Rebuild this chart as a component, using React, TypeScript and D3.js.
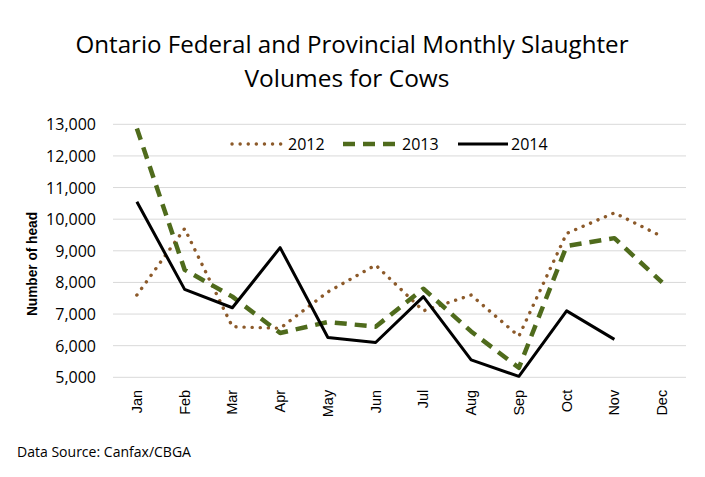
import React from "react";
import * as d3 from "d3";

const months = ["Jan", "Feb", "Mar", "Apr", "May", "Jun", "Jul", "Aug", "Sep", "Oct", "Nov", "Dec"];
const v2012 = [7600, 9700, 6600, 6550, 7700, 8550, 7100, 7600, 6300, 9550, 10200, 9450];
const v2013 = [12870, 8400, 7550, 6400, 6750, 6600, 7800, 6450, 5300, 9150, 9400, 8000];
const v2014 = [10550, 7780, 7200, 9100, 6260, 6100, 7550, 5550, 5030, 7100, 6200];
const yTicks = [5000, 6000, 7000, 8000, 9000, 10000, 11000, 12000, 13000];
const seriesNames = ["2012", "2013", "2014"];

const W = 705, H = 477;
const left = 113, right = 686, top = 124.3, bottom = 377.3;

export default function App() {
  const x = d3.scaleBand<string>().domain(months).range([left, right]);
  const y = d3.scaleLinear().domain([5000, 13000]).range([bottom, top]);
  const cx = (m: string) => (x(m) as number) + x.bandwidth() / 2;
  const line = d3.line<number>().x((_, i) => cx(months[i])).y((d) => y(d));
  const fmt = d3.format(",");
  const font = "'Open Sans', Lato, sans-serif";
  const arial = "'Liberation Sans', Arial, sans-serif";
  const styles = [
    { stroke: "#8c5a2a", width: 3.4, dash: "0.1 8", cap: "round" as const },
    { stroke: "#4f6b1c", width: 4.5, dash: "12 8", cap: "butt" as const },
    { stroke: "#000000", width: 3, dash: "", cap: "butt" as const },
  ];
  const data = [v2012, v2013, v2014];
  const legendLine = [[230, 282], [343, 395], [458, 508]];
  const legendText = [288, 402, 511];
  return (
    <svg width={W} height={H} style={{ position: "absolute", left: 0, top: 0, background: "#fff" }}>
      <rect x={0} y={0} width={W} height={H} fill="#fff" />
      <text x={352} y={53} textAnchor="middle" fontFamily={font} fontSize={24} fill="#000"
        textLength={553} lengthAdjust="spacingAndGlyphs">
        Ontario Federal and Provincial Monthly Slaughter
      </text>
      <text x={347} y={87} textAnchor="middle" fontFamily={font} fontSize={24} fill="#000"
        textLength={205} lengthAdjust="spacingAndGlyphs">
        Volumes for Cows
      </text>
      {yTicks.map((t) => (
        <g key={t}>
          <line x1={left} x2={right} y1={y(t)} y2={y(t)} stroke="#d9d9d9" strokeWidth={1} />
          <text x={96} y={y(t) + 6} textAnchor="end" fontFamily={font} fontSize={16} fill="#000">
            {fmt(t)}
          </text>
        </g>
      ))}
      <text
        transform={`translate(37,264) rotate(-90)`}
        textAnchor="middle"
        fontFamily={arial}
        fontWeight="bold"
        fontSize={14.5}
        fill="#000"
        textLength={104}
        lengthAdjust="spacingAndGlyphs"
      >
        Number of head
      </text>
      {months.map((m) => (
        <text
          key={m}
          transform={`translate(${cx(m) + 5},${bottom + 12.5}) rotate(-90)`}
          textAnchor="end"
          fontFamily={arial}
          fontSize={14.5}
          fill="#000"
        >
          {m}
        </text>
      ))}
      {data.map((d, i) => (
        <path
          key={i}
          d={line(d) as string}
          fill="none"
          stroke={styles[i].stroke}
          strokeWidth={styles[i].width}
          strokeDasharray={styles[i].dash || undefined}
          strokeLinecap={styles[i].cap}
          strokeLinejoin="round"
        />
      ))}
      {seriesNames.map((s, i) => (
        <g key={s}>
          <line
            x1={legendLine[i][0] + (i === 0 ? 2 : 0)}
            x2={legendLine[i][1]}
            y1={144}
            y2={144}
            stroke={styles[i].stroke}
            strokeWidth={styles[i].width}
            strokeDasharray={styles[i].dash || undefined}
            strokeLinecap={styles[i].cap}
          />
          <text x={legendText[i]} y={149.5} fontFamily={font} fontSize={16} fill="#000">
            {s}
          </text>
        </g>
      ))}
      <text x={17} y={457} fontFamily={font} fontSize={15} fill="#000"
        textLength={174} lengthAdjust="spacingAndGlyphs">
        Data Source: Canfax/CBGA
      </text>
    </svg>
  );
}
